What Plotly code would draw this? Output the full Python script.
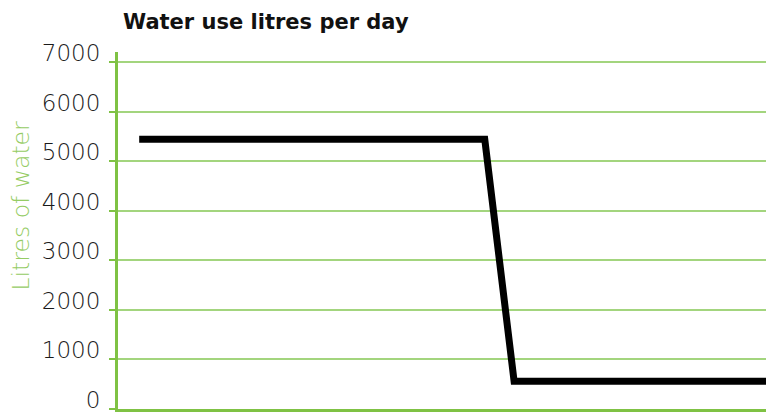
import plotly.graph_objects as go

# Data
x_pos = [0.65, 11.25, 12.15, 20]
litres = [5440, 5440, 560, 560]
y_ticks = [0, 1000, 2000, 3000, 4000, 5000, 6000, 7000]
y_tick_labels = ["0", "1000", "2000", "3000", "4000", "5000", "6000", "7000"]

grid_green = "#a3d57e"
axis_green = "#7fc244"
title_green = "#95cc64"
FONT = "DejaVu Sans, Lato, sans-serif"

fig = go.Figure()
fig.add_trace(go.Scatter(
    x=x_pos, y=litres, mode="lines",
    line=dict(color="black", width=7),
    hoverinfo="skip", showlegend=False,
))

# the page body has an 8px margin, so the figure is sized to fit the window
fig.update_layout(
    width=766, height=404,
    margin=dict(l=110, r=4, t=44, b=3, autoexpand=False),
    paper_bgcolor="white", plot_bgcolor="white",
    font=dict(family=FONT, color="#222222"),
    xaxis=dict(
        range=[0, 20], showgrid=False, zeroline=False,
        showticklabels=False, ticks="", automargin=False,
        showline=True, linecolor=axis_green, linewidth=3,
    ),
    yaxis=dict(
        range=[0, 7200], tickvals=y_ticks, ticktext=y_tick_labels,
        showgrid=True, gridcolor=grid_green, gridwidth=2,
        zeroline=False, automargin=False,
        showline=True, linecolor=axis_green, linewidth=3,
        ticks="outside", ticklen=6, tickwidth=2, tickcolor=axis_green,
        ticklabelstandoff=4, ticklabelshift=-9,
        ticklabeloverflow="allow",
        tickfont=dict(size=23, family=FONT, color="#1a1a1a", weight=200),
    ),
    annotations=[
        dict(
            text="<b>Water use litres per day</b>",
            xref="paper", yref="paper", x=0, y=1,
            xanchor="left", yanchor="middle",
            xshift=3, yshift=30, showarrow=False,
            font=dict(size=21, family=FONT, color="#111111"),
        ),
        dict(
            text="Litres of water",
            xref="paper", yref="paper", x=0, y=0.57,
            xanchor="center", yanchor="middle",
            xshift=-97, showarrow=False, textangle=-90,
            font=dict(size=23.5, family=FONT, color=title_green, weight=200),
        ),
    ],
)

fig.write_html("out.html")
